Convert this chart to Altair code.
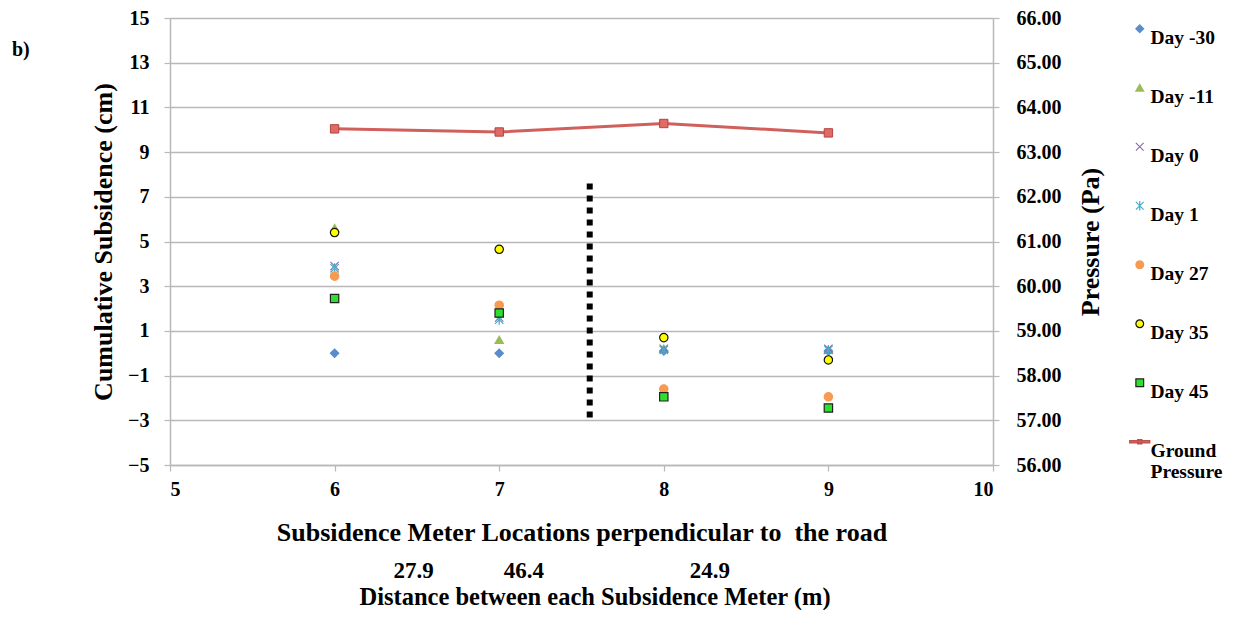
import altair as alt
import pandas as pd

# ---------------- data ----------------
locations = [6, 7, 8, 9]
day_m30 = [0.0, 0.0, 0.1, 0.1]
day_m11 = [5.6, 0.6, 0.2, 0.15]
day_0 = [3.9, 1.6, 0.2, 0.2]
day_1 = [3.8, 1.5, 0.15, 0.15]
day_27 = [3.45, 2.15, -1.6, -1.95]
day_35 = [5.4, 4.65, 0.7, -0.3]
day_45 = [2.45, 1.8, -1.95, -2.45]
ground_pressure = [63.52, 63.45, 63.64, 63.43]

series_names = ["Day -30", "Day -11", "Day 0", "Day 1", "Day 27", "Day 35", "Day 45", "Ground Pressure"]
subsidence_series = [day_m30, day_m11, day_0, day_1, day_27, day_35, day_45]

distance_labels = ["27.9", "46.4", "24.9"]
distance_label_x = [6.48, 7.15, 8.28]

divider_x = [7.55]
divider_top = [7.6]
divider_bottom = [-2.9]

# ---------------- tables ----------------
rows = []
for name, vals in zip(series_names[:7], subsidence_series):
    for x, v in zip(locations, vals):
        rows.append({"x": x, "value": v, "series": name})
sub_df = pd.DataFrame(rows)
pres_df = pd.DataFrame({"x": locations, "pressure": ground_pressure})
dist_df = pd.DataFrame({"x": distance_label_x, "label": distance_labels})
div_df = pd.DataFrame({"x": divider_x, "top": divider_top, "bottom": divider_bottom})

FONT = "Liberation Serif"
GRID = "#b8b8b8"

shapes = [
    "diamond",
    "triangle-up",
    "M-1,-1L1,1M-1,1L1,-1",
    "M-1,-1L1,1M-1,1L1,-1M0,-1.2L0,1.2",
    "circle",
    "circle",
    "square",
    "M-2.6,-0.3H2.6V0.3H-2.6Z M-0.55,-0.55H0.55V0.55H-0.55Z",
]
fills = ["#5a8ccb", "#9bbb59", "transparent", "transparent", "#f79a52", "#ffff00", "#2ee02e", "#d9625e"]
strokes = ["#5a8ccb", "#9bbb59", "#8a6fae", "#4bacc6", "#f79a52", "#111111", "#222222", "#c0504d"]

legend = alt.Legend(
    title=None,
    orient="none",
    legendX=960,
    legendY=1,
    rowPadding=30,
    symbolSize=60,
    symbolStrokeWidth=1.2,
    labelFont=FONT,
    labelFontSize=19.5,
    labelFontWeight="bold",
    labelColor="black",
    labelOffset=1,
    labelLimit=200,
    labelBaseline="top",
    labelExpr="datum.label == 'Ground Pressure' ? ['Ground', 'Pressure'] : datum.label",
)

x_scale = alt.Scale(domain=[5, 10], nice=False, zero=False)
x_axis = alt.Axis(
    values=[5, 6, 7, 8, 9, 10],
    grid=False,
    title="Subsidence Meter Locations perpendicular to\u00a0\u00a0the road",
    labelFont=FONT, labelFontSize=20, labelFontWeight="bold", labelColor="black",
    titleFont=FONT, titleFontSize=26, titleFontWeight="bold", titleColor="black",
    labelPadding=8, titlePadding=20,
    domainColor=GRID, domainWidth=1.5, tickColor=GRID, tickSize=6, tickWidth=1.2,
)
y_axis = alt.Axis(
    values=list(range(-5, 16, 2)),
    grid=True, gridColor=GRID, gridWidth=1.5,
    title="Cumulative Subsidence (cm)",
    labelFont=FONT, labelFontSize=20, labelFontWeight="bold", labelColor="black",
    titleFont=FONT, titleFontSize=26, titleFontWeight="bold", titleColor="black",
    labelPadding=15, titlePadding=11,
    domainColor=GRID, domainWidth=1.5, tickColor=GRID, tickSize=6, tickWidth=1.2,
)
y2_axis = alt.Axis(
    orient="right",
    values=list(range(56, 67)),
    format=".2f",
    grid=False,
    title="Pressure (Pa)",
    titleAngle=270,
    labelFont=FONT, labelFontSize=20, labelFontWeight="bold", labelColor="black",
    titleFont=FONT, titleFontSize=26, titleFontWeight="bold", titleColor="black",
    labelPadding=17, titlePadding=42,
    domainColor=GRID, domainWidth=1.5, tickColor=GRID, tickSize=6, tickWidth=1.2,
)

X = alt.X("x:Q", scale=x_scale, axis=x_axis)
Y = alt.Y("value:Q", scale=alt.Scale(domain=[-5, 15], nice=False, zero=False), axis=y_axis)

points = alt.Chart(sub_df).mark_point(filled=True, size=70, strokeWidth=1.2, opacity=1).encode(
    x=X,
    y=Y,
    shape=alt.Shape("series:N", scale=alt.Scale(domain=series_names, range=shapes), legend=legend),
    fill=alt.Fill("series:N", scale=alt.Scale(domain=series_names, range=fills), legend=legend),
    stroke=alt.Stroke("series:N", scale=alt.Scale(domain=series_names, range=strokes), legend=legend),
    order=alt.Order("series:N"),
)

divider = alt.Chart(div_df).mark_rule(color="black", strokeWidth=6, strokeDash=[6, 6]).encode(
    x=alt.X("x:Q", scale=x_scale, axis=x_axis),
    y=alt.Y("top:Q", scale=alt.Scale(domain=[-5, 15], nice=False, zero=False), axis=y_axis),
    y2="bottom:Q",
)

dist_text = alt.Chart(dist_df).mark_text(
    font=FONT, fontSize=23, fontWeight="bold", color="black", align="center", baseline="middle"
).encode(
    x=alt.X("x:Q", scale=x_scale, axis=x_axis),
    y=alt.value(553),
    text="label:N",
)

dist_title = alt.Chart(pd.DataFrame({"t": ["Distance between each Subsidence Meter (m)"]})).mark_text(
    font=FONT, fontSize=24.5, fontWeight="bold", color="black", align="center", baseline="alphabetic"
).encode(x=alt.value(425), y=alt.value(587), text="t:N")

panel_label = alt.Chart(pd.DataFrame({"t": ["b)"]})).mark_text(
    font=FONT, fontSize=20, fontWeight="bold", color="black", align="left", baseline="middle"
).encode(x=alt.value(-158), y=alt.value(32), text="t:N")

YP = alt.Y("pressure:Q", scale=alt.Scale(domain=[56, 66], nice=False, zero=False), axis=y2_axis)
p_line = alt.Chart(pres_df).mark_line(color="#d0605c", strokeWidth=3).encode(x=X, y=YP)
p_pts = alt.Chart(pres_df).mark_point(
    shape="square", filled=True, size=70, fill="#e06a66", stroke="#b54440", strokeWidth=1, opacity=1
).encode(x=X, y=YP)

left = alt.layer(divider, points, dist_text, dist_title, panel_label)
right = alt.layer(p_line, p_pts)

chart = alt.layer(left, right).resolve_scale(y="independent").properties(
    width=823,
    height=447,
    autosize=alt.AutoSizeParams(type="none"),
    padding={"left": 162, "top": 10, "right": 237, "bottom": 145},
    background="white",
).configure_view(stroke=None)

chart.save("out.html", embed_options={"renderer": "svg", "actions": False})
